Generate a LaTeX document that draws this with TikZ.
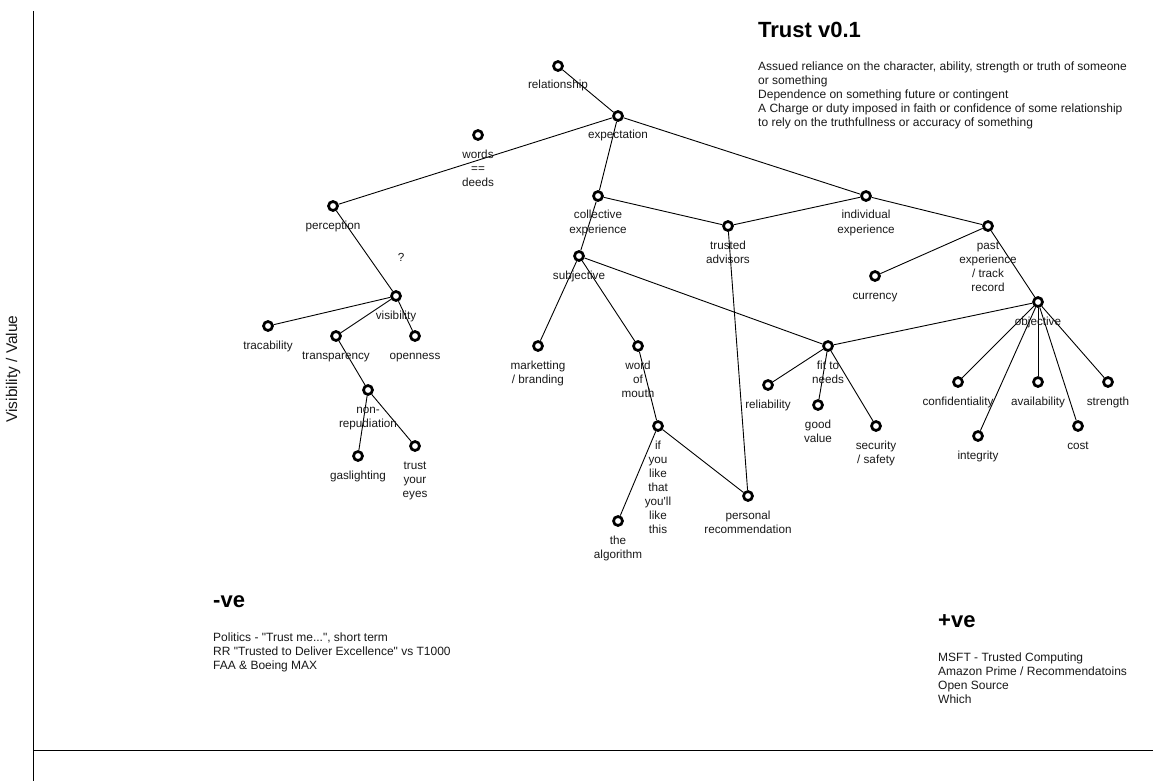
\documentclass[tikz,border=0pt]{standalone}
\usepackage{fontspec}
\setmainfont{Liberation Sans}[Ligatures=TeXOff]
\begin{document}
\begin{tikzpicture}[x=1pt,y=-1pt,
  dot/.style={circle,draw=black,line width=2.7pt,fill=white,minimum size=9pt,inner sep=0pt},
  lbl/.style={font=\fontsize{11.7}{14}\selectfont,align=center,inner sep=0pt,anchor=base,text=black!90},
  para/.style={font=\fontsize{12}{14}\selectfont,align=left,inner sep=0pt,anchor=base west,text=black!90},
  head/.style={font=\fontsize{22}{26}\selectfont\bfseries,inner sep=0pt,anchor=base west},
  edge/.style={draw=black,line width=0.9pt},
  axis/.style={draw=black,line width=1pt}]
\useasboundingbox (0,0) rectangle (1154,781);
\fill[white] (0,0) rectangle (1154,781);

% axes
\coordinate (ytop) at (33,11);
\coordinate (ybot) at (33,781);
\coordinate (xleft) at (33,750);
\coordinate (xright) at (1153,750);
\draw[axis] (ytop) -- (ybot);
\draw[axis] (xleft) -- (xright);
\node[lbl,font=\fontsize{15.5}{18}\selectfont,anchor=center,rotate=90] (ylabel) at (13,369) {Visibility / Value};

% nodes
\node[dot] (relationship) at (558,66) {};
\node[dot] (expectation) at (618,116) {};
\node[dot] (words) at (478,135) {};
\node[dot] (perception) at (333,206) {};
\node[dot] (collective) at (598,196) {};
\node[dot] (trusted) at (728,226) {};
\node[dot] (individual) at (866,196) {};
\node[dot] (past) at (988,226) {};
\node[dot] (currency) at (875,276) {};
\node[dot] (subjective) at (579,256) {};
\node[dot] (visibility) at (396,296) {};
\node[dot] (tracability) at (268,326) {};
\node[dot] (transparency) at (336,336) {};
\node[dot] (openness) at (415,336) {};
\node[dot] (nonrep) at (368,390) {};
\node[dot] (gaslighting) at (358,456) {};
\node[dot] (trusteyes) at (415,446) {};
\node[dot] (marketting) at (538,346) {};
\node[dot] (wom) at (638,346) {};
\node[dot] (iflike) at (658,426) {};
\node[dot] (algorithm) at (618,521) {};
\node[dot] (personal) at (748,496) {};
\node[dot] (fit) at (828,346) {};
\node[dot] (reliability) at (768,385) {};
\node[dot] (goodvalue) at (818,405) {};
\node[dot] (security) at (876,426) {};
\node[dot] (objective) at (1038,302) {};
\node[dot] (confidentiality) at (958,382) {};
\node[dot] (integrity) at (978,436) {};
\node[dot] (availability) at (1038,382) {};
\node[dot] (cost) at (1078,426) {};
\node[dot] (strength) at (1108,382) {};

% edges
\draw[edge] (relationship) -- (expectation);
\draw[edge] (expectation) -- (perception);
\draw[edge] (expectation) -- (individual);
\draw[edge] (expectation) -- (collective);
\draw[edge] (collective) -- (subjective);
\draw[edge] (collective) -- (trusted);
\draw[edge] (individual) -- (trusted);
\draw[edge] (individual) -- (past);
\draw[edge] (past) -- (currency);
\draw[edge] (past) -- (objective);
\draw[edge] (subjective) -- (marketting);
\draw[edge] (subjective) -- (wom);
\draw[edge] (subjective) -- (fit);
\draw[edge] (objective) -- (fit);
\draw[edge] (wom) -- (iflike);
\draw[edge] (iflike) -- (algorithm);
\draw[edge] (iflike) -- (personal);
\draw[edge] (trusted) -- (personal);
\draw[edge] (fit) -- (reliability);
\draw[edge] (fit) -- (goodvalue);
\draw[edge] (fit) -- (security);
\draw[edge] (objective) -- (confidentiality);
\draw[edge] (objective) -- (integrity);
\draw[edge] (objective) -- (availability);
\draw[edge] (objective) -- (cost);
\draw[edge] (objective) -- (strength);
\draw[edge] (perception) -- (visibility);
\draw[edge] (visibility) -- (tracability);
\draw[edge] (visibility) -- (transparency);
\draw[edge] (visibility) -- (openness);
\draw[edge] (transparency) -- (nonrep);
\draw[edge] (nonrep) -- (gaslighting);
\draw[edge] (nonrep) -- (trusteyes);

% labels (anchor = baseline of last line)
\node[lbl] (relationship-l) at (558,89) {relationship};
\node[lbl] (expectation-l) at (618,139) {expectation};
\node[lbl] (words-l) at (478,186) {words\\==\\deeds};
\node[lbl] (perception-l) at (333,229) {perception};
\node[lbl] (collective-l) at (598,233) {collective\\experience};
\node[lbl] (trusted-l) at (728,263) {trusted\\advisors};
\node[lbl] (individual-l) at (866,233) {individual\\experience};
\node[lbl] (past-l) at (988,291) {past\\experience\\/ track\\record};
\node[lbl] (currency-l) at (875,299) {currency};
\node[lbl] (subjective-l) at (579,279) {subjective};
\node[lbl] (question) at (401,261) {?};
\node[lbl] (visibility-l) at (396,319) {visibility};
\node[lbl] (tracability-l) at (268,349) {tracability};
\node[lbl] (transparency-l) at (336,359) {transparency};
\node[lbl] (openness-l) at (415,359) {openness};
\node[lbl] (nonrep-l) at (368,427) {non-\\repudiation};
\node[lbl] (gaslighting-l) at (358,479) {gaslighting};
\node[lbl] (trusteyes-l) at (415,497) {trust\\your\\eyes};
\node[lbl] (marketting-l) at (538,383) {marketting\\/ branding};
\node[lbl] (wom-l) at (638,397) {word\\of\\mouth};
\node[lbl] (iflike-l) at (658,533) {if\\you\\like\\that\\you'll\\like\\this};
\node[lbl] (algorithm-l) at (618,558) {the\\algorithm};
\node[lbl] (personal-l) at (748,533) {personal\\recommendation};
\node[lbl] (fit-l) at (828,383) {fit to\\needs};
\node[lbl] (reliability-l) at (768,408) {reliability};
\node[lbl] (goodvalue-l) at (818,442) {good\\value};
\node[lbl] (security-l) at (876,463) {security\\/ safety};
\node[lbl] (objective-l) at (1038,325) {objective};
\node[lbl] (confidentiality-l) at (958,405) {confidentiality};
\node[lbl] (integrity-l) at (978,459) {integrity};
\node[lbl] (availability-l) at (1038,405) {availability};
\node[lbl] (cost-l) at (1078,449) {cost};
\node[lbl] (strength-l) at (1108,405) {strength};

% text blocks (anchor = baseline of last line)
\node[head] (title) at (758,38) {Trust v0.1};
\node[para] (defs) at (758,127) {Assued reliance on the character, ability, strength or truth of someone\\or something\\Dependence on something future or contingent\\A Charge or duty imposed in faith or confidence of some relationship\\to rely on the truthfullness or accuracy of something};
\node[head] (neg) at (213,607) {-ve};
\node[para] (negtext) at (213,669) {Politics - "Trust me...", short term\\RR "Trusted to Deliver Excellence" vs T1000\\FAA \& Boeing MAX};
\node[head] (pos) at (938,627) {+ve};
\node[para] (postext) at (938,703) {MSFT - Trusted Computing\\Amazon Prime / Recommendatoins\\Open Source\\Which};
\end{tikzpicture}
\end{document}
